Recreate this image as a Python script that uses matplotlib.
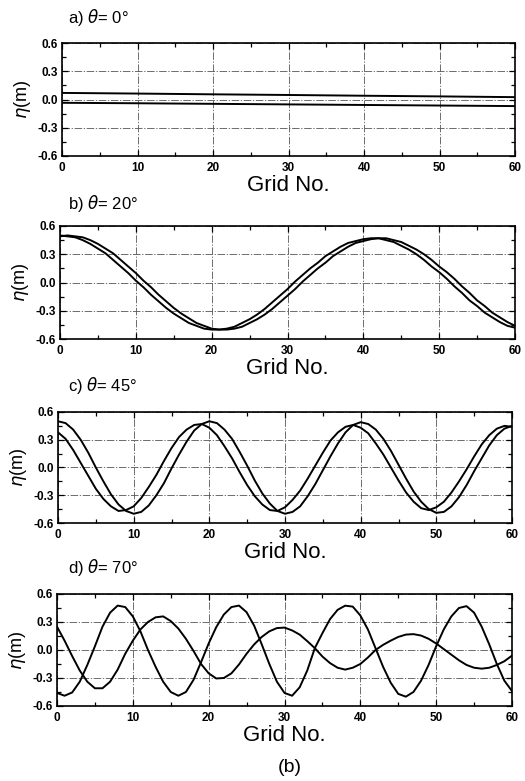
import numpy as np
import matplotlib
matplotlib.use("Agg")
import matplotlib.pyplot as plt
from matplotlib.ticker import MultipleLocator, FixedLocator

plt.rcParams['font.family'] = ['Liberation Sans', 'DejaVu Sans']
plt.rcParams['axes.unicode_minus'] = False
plt.rcParams['mathtext.fontset'] = 'dejavusans'

# ---------------- data ----------------
grid_coarse = [0, 10, 20, 30, 40, 50, 60]
a_upper = [0.07, 0.063, 0.055, 0.048, 0.04, 0.033, 0.025]
a_lower = [-0.035, -0.04, -0.046, -0.052, -0.058, -0.064, -0.07]

grid = list(range(61))

b_left = [0.50, 0.49, 0.48, 0.45, 0.41, 0.36, 0.31, 0.24, 0.17, 0.10,
          0.02, -0.05, -0.13, -0.20, -0.27, -0.33, -0.38, -0.43, -0.46, -0.49,
          -0.50, -0.50, -0.49, -0.47, -0.43, -0.39, -0.34, -0.28, -0.21, -0.14,
          -0.07, 0.01, 0.08, 0.15, 0.21, 0.28, 0.33, 0.38, 0.42, 0.44,
          0.46, 0.47, 0.47, 0.45, 0.43, 0.39, 0.35, 0.30, 0.24, 0.17,
          0.11, 0.04, -0.04, -0.11, -0.19, -0.25, -0.32, -0.37, -0.42, -0.46,
          -0.48]
b_right = [0.49, 0.50, 0.49, 0.48, 0.45, 0.41, 0.36, 0.31, 0.24, 0.17,
           0.10, 0.02, -0.05, -0.13, -0.20, -0.27, -0.33, -0.38, -0.43, -0.46,
           -0.49, -0.50, -0.50, -0.49, -0.47, -0.43, -0.39, -0.34, -0.28, -0.21,
           -0.14, -0.07, 0.01, 0.08, 0.15, 0.21, 0.28, 0.33, 0.38, 0.42,
           0.44, 0.46, 0.47, 0.47, 0.45, 0.43, 0.39, 0.35, 0.30, 0.24,
           0.17, 0.11, 0.04, -0.04, -0.11, -0.19, -0.25, -0.32, -0.37, -0.42,
           -0.46]

c_first = [0.50, 0.48, 0.41, 0.30, 0.16, 0.00, -0.15, -0.29, -0.40, -0.47,
           -0.50, -0.48, -0.41, -0.30, -0.17, -0.01, 0.14, 0.28, 0.40, 0.47,
           0.50, 0.48, 0.41, 0.31, 0.17, 0.02, -0.14, -0.28, -0.39, -0.47,
           -0.50, -0.48, -0.42, -0.31, -0.18, -0.03, 0.12, 0.26, 0.38, 0.46,
           0.49, 0.47, 0.41, 0.31, 0.18, 0.03, -0.12, -0.26, -0.37, -0.45,
           -0.49, -0.48, -0.42, -0.32, -0.19, -0.04, 0.10, 0.24, 0.35, 0.42,
           0.45]
c_second = [0.38, 0.31, 0.19, 0.05, -0.09, -0.23, -0.34, -0.42, -0.47, -0.46,
            -0.42, -0.33, -0.21, -0.08, 0.07, 0.21, 0.33, 0.41, 0.46, 0.47,
            0.43, 0.35, 0.23, 0.10, -0.05, -0.19, -0.31, -0.40, -0.46, -0.47,
            -0.43, -0.35, -0.25, -0.12, 0.02, 0.16, 0.29, 0.38, 0.44, 0.46,
            0.43, 0.37, 0.26, 0.14, 0.00, -0.14, -0.27, -0.37, -0.44, -0.46,
            -0.43, -0.37, -0.27, -0.15, -0.02, 0.12, 0.25, 0.35, 0.42, 0.45,
            0.44]

d_large = [-0.46, -0.49, -0.455, -0.34, -0.16, 0.04, 0.25, 0.40, 0.476, 0.46,
           0.36, 0.20, 0.00, -0.18, -0.34, -0.45, -0.49, -0.45, -0.32, -0.13,
           0.07, 0.245, 0.38, 0.46, 0.476, 0.405, 0.26, 0.06, -0.15, -0.34,
           -0.46, -0.49, -0.40, -0.22, 0.02, 0.18, 0.33, 0.43, 0.475, 0.465,
           0.37, 0.22, 0.02, -0.18, -0.35, -0.47, -0.50, -0.45, -0.33, -0.16,
           0.04, 0.22, 0.36, 0.45, 0.47, 0.40, 0.25, 0.06, -0.15, -0.33,
           -0.44]
d_decay = [0.25, 0.10, -0.065, -0.22, -0.34, -0.41, -0.41, -0.34, -0.21, -0.04,
           0.10, 0.22, 0.30, 0.35, 0.36, 0.31, 0.23, 0.12, -0.01, -0.15,
           -0.25, -0.305, -0.30, -0.25, -0.155, -0.04, 0.06, 0.14, 0.20, 0.235,
           0.24, 0.21, 0.165, 0.095, 0.02, -0.07, -0.14, -0.19, -0.21, -0.19,
           -0.15, -0.08, 0.00, 0.055, 0.10, 0.14, 0.165, 0.17, 0.155, 0.12,
           0.07, 0.01, -0.05, -0.11, -0.16, -0.19, -0.20, -0.19, -0.16, -0.12,
           -0.06]

titles = ["a) $\\theta$= 0°", "b) $\\theta$= 20°", "c) $\\theta$= 45°", "d) $\\theta$= 70°"]
x_ticks = [0, 10, 20, 30, 40, 50, 60]
y_ticks = [-0.6, -0.3, 0.0, 0.3, 0.6]
y_tick_labels = ["-0.6", "-0.3", "0.0", "0.3", "0.6"]

panels = [
    ([grid_coarse, grid_coarse], [a_upper, a_lower]),
    ([grid, grid], [b_left, b_right]),
    ([grid, grid], [c_first, c_second]),
    ([grid, grid], [d_large, d_decay]),
]

# ---------------- layout (pixels) ----------------
W, H = 525, 781
boxes = [(62, 43, 515, 156), (60, 226, 515, 339), (58, 412, 512, 523), (57, 594, 512, 706)]
title_y = [18, 203, 385, 567]

fig = plt.figure(figsize=(W / 100, H / 100), dpi=100)
fig.patch.set_facecolor('white')

for i, ((xs, ys), (x0, y0, x1, y1)) in enumerate(zip(panels, boxes)):
    ax = fig.add_axes([x0 / W, 1 - y1 / H, (x1 - x0) / W, (y1 - y0) / H])
    for xx, yy in zip(xs, ys):
        ax.plot(xx, yy, color='black', lw=1.4, solid_joinstyle='round')
    ax.set_xlim(0, 60)
    ax.set_ylim(-0.6, 0.6)
    ax.xaxis.set_major_locator(FixedLocator(x_ticks))
    ax.xaxis.set_minor_locator(MultipleLocator(5))
    ax.yaxis.set_major_locator(FixedLocator(y_ticks))
    ax.yaxis.set_minor_locator(MultipleLocator(0.15))
    ax.set_yticklabels(y_tick_labels)
    ax.tick_params(which='both', direction='in', top=True, right=True,
                   labelsize=8.5, width=0.9, colors='black')
    ax.tick_params(which='major', length=4)
    ax.tick_params(which='minor', length=3)
    ax.tick_params(axis='x', pad=4)
    ax.tick_params(axis='y', pad=3)
    for lab in ax.get_xticklabels() + ax.get_yticklabels():
        lab.set_fontweight('bold')
    ax.grid(True, which='major', color='#555555', lw=0.6, linestyle=(0, (9, 2, 1.5, 2)))
    for sp in ax.spines.values():
        sp.set_linewidth(1.2)
    ax.set_xlabel("Grid No.", fontsize=16, labelpad=1)
    ax.set_ylabel("$\\eta$(m)", fontsize=13, labelpad=3)
    fig.text(68 / W, 1 - title_y[i] / H, titles[i], fontsize=12, va='center', ha='left')

fig.text(290 / W, 1 - 768 / H, "(b)", fontsize=14, ha='center', va='center')

fig.savefig("out.png", dpi=100, facecolor='white')
